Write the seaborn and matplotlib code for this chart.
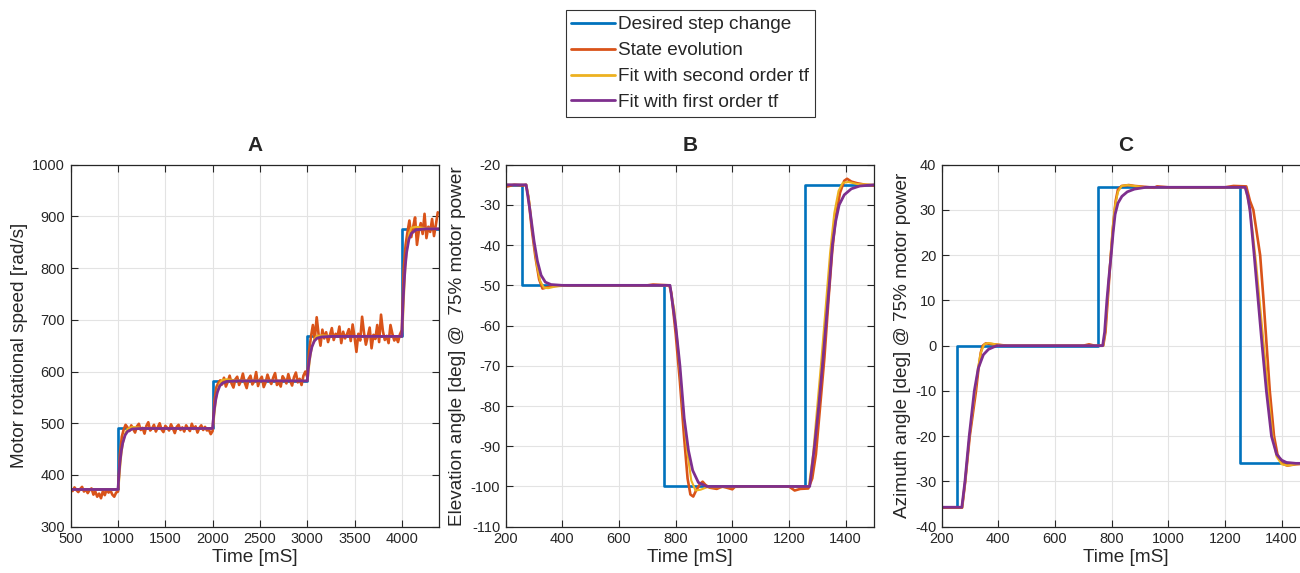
import numpy as np
import pandas as pd
import matplotlib
matplotlib.use("Agg")
import matplotlib.pyplot as plt
import seaborn as sns
from matplotlib.lines import Line2D

# =======================
# Data
# =======================
# --- Panel A: motor rotational speed ---
a_step_t = [500, 1000, 2000, 3000, 4000, 4400]
a_step_v = [372, 490, 582, 668, 876, 876]

a_state_t = np.arange(500, 4400, 20)
a_state_v = [
    374, 369, 376, 371, 367, 373, 377, 368, 372, 365, 371, 374, 362, 368, 358,
    364, 355, 369, 361, 372, 366, 370, 362, 358, 366,
    368, 440, 474, 488, 497, 492, 485, 496, 489, 482, 494, 499, 487, 491, 480,
    495, 502, 486, 490, 497, 484, 492, 500, 488, 483, 495, 491, 486, 498, 490,
    481, 493, 497, 487, 492, 484, 496, 490, 485, 499, 489, 494, 482, 491, 496,
    487, 493, 486, 488, 479,
    485, 545, 570, 578, 583, 575, 588, 571, 580, 592, 577, 569, 585, 590, 574,
    582, 596, 578, 568, 586, 592, 575, 581, 599, 572, 584, 590, 570, 579, 594,
    583, 576, 588, 597, 574, 580, 571, 591, 585, 577, 595, 582, 573, 589, 598,
    579, 586, 574, 592, 600,
    590, 640, 668, 690, 662, 705, 672, 650, 681, 664, 676, 657, 670, 684, 661,
    673, 668, 687, 655, 677, 664, 672, 682, 659, 691, 667, 638, 673, 660, 706,
    675, 652, 668, 685, 645, 671, 663, 690, 657, 710, 678, 661, 669, 655, 690,
    673, 660, 666, 657, 672,
    680, 800, 845, 870, 892, 860, 880, 898, 845, 872, 887, 866, 905, 858, 880,
    870, 895, 862, 884, 908,
]

a_fit2_t = [500, 1000, 1010, 1020, 1035, 1050, 1075, 1100, 1150, 1250, 2000,
            2010, 2020, 2035, 2050, 2075, 2100, 2150, 2250, 3000,
            3010, 3020, 3035, 3050, 3075, 3100, 3150, 3250, 4000,
            4010, 4020, 4035, 4050, 4075, 4100, 4150, 4250, 4400]
a_fit2_v = [372, 372, 385, 410, 440, 460, 480, 489, 493, 491, 490,
            500, 520, 545, 562, 577, 584, 585, 583, 582,
            591, 610, 632, 648, 662, 669, 670, 669, 668,
            690, 735, 795, 832, 865, 878, 880, 877, 876]

a_fit1_t = [500, 1000, 1010, 1020, 1035, 1050, 1075, 1100, 1150, 1250, 2000,
            2010, 2020, 2035, 2050, 2075, 2100, 2150, 2250, 3000,
            3010, 3020, 3035, 3050, 3075, 3100, 3150, 3250, 4000,
            4010, 4020, 4035, 4050, 4075, 4100, 4150, 4250, 4400]
a_fit1_v = [372, 372, 402, 424, 447, 462, 477, 484, 489, 490, 490,
            513, 530, 548, 560, 572, 577, 581, 582, 582,
            604, 620, 636, 648, 659, 664, 667, 668, 668,
            720, 760, 802, 830, 856, 867, 874, 876, 876]

# --- Panel B: elevation angle ---
b_step_t = [200, 256, 760, 1255, 1500]
b_step_v = [-25, -50, -100, -25, -25]

b_state_t = [200, 230, 262, 272, 280, 292, 305, 318, 330, 345, 365, 400, 700,
             720, 778, 785, 800, 815, 830, 842, 852, 862, 872, 885, 895, 905,
             920, 945, 965, 1000, 1010, 1200, 1220, 1240, 1268, 1282, 1295,
             1310, 1325, 1340, 1352, 1365, 1380, 1395, 1405, 1420, 1440, 1470,
             1500]
b_state_v = [-25.5, -25, -25.2, -25, -28, -36, -43, -48.5, -50.8, -50.5, -50.2,
             -50, -50, -49.8, -50, -52, -62, -74, -88, -98, -102, -102.5, -101,
             -99.5, -98.8, -99.6, -100.3, -100.6, -100, -100.7, -100, -100,
             -101, -100.6, -100.5, -98, -92, -80, -68, -53, -42, -33, -27, -24,
             -23.5, -24.2, -24.6, -25, -25.2]

b_fit2_t = [200, 272, 283, 297, 310, 322, 335, 350, 375, 420, 778, 795, 810,
            825, 840, 855, 870, 888, 910, 1270, 1285, 1300, 1315, 1330, 1345,
            1360, 1375, 1390, 1410, 1440, 1500]
b_fit2_v = [-25, -25, -29, -38, -45, -49, -50.6, -50.7, -50.3, -50, -50, -56,
            -67, -80, -91, -98.5, -101, -100.8, -100.2, -100, -92, -80, -68,
            -55, -42, -32, -26.5, -24.5, -24.3, -24.8, -25]

b_fit1_t = [200, 272, 285, 300, 312, 325, 340, 360, 400, 780, 800, 815, 830,
            845, 860, 880, 910, 1273, 1290, 1305, 1318, 1330, 1342, 1353, 1365,
            1377, 1395, 1420, 1450, 1500]
b_fit1_v = [-25, -25, -31, -39, -44, -47.5, -49.2, -49.8, -50, -50, -60, -70,
            -83, -91, -96, -99, -100, -100, -90, -80, -70, -60, -50, -40, -34,
            -30, -27.5, -26, -25.3, -25]

# --- Panel C: azimuth angle ---
c_step_t = [200, 255, 750, 1254, 1500]
c_step_v = [-35.7, 0, 35, -26, -26]

c_state_t = [200, 272, 283, 299, 321, 330, 338, 345, 355, 370, 400, 430, 700,
             720, 740, 770, 778, 788, 797, 806, 814, 822, 835, 860, 880, 900,
             950, 960, 1000, 1200, 1230, 1275, 1288, 1300, 1312, 1324, 1336,
             1347, 1358, 1373, 1385, 1400, 1420, 1450, 1500]
c_state_v = [-35.8, -35.8, -30, -20, -10, -5, -1.5, 0, 0.5, 0.4, 0.2, 0, 0,
             0.3, 0, 0, 3, 12, 20, 27, 32, 34.5, 35.3, 35.5, 35.3, 35.2, 34.9,
             35.2, 35, 35, 35.3, 35.2, 32, 30, 25, 20, 10, 0, -10, -20, -24,
             -26, -26.5, -26.2, -26]

c_fit2_t = [200, 272, 283, 298, 318, 328, 338, 350, 365, 390, 430, 770, 777,
            786, 795, 803, 812, 822, 835, 855, 880, 920, 1272, 1285, 1298,
            1310, 1322, 1337, 1352, 1368, 1382, 1400, 1420, 1450, 1500]
c_fit2_v = [-35.7, -35.7, -30, -20, -10, -5, -1.5, 0.3, 0.6, 0.3, 0, 0, 3, 11,
            19, 26, 31, 34, 35.3, 35.5, 35.3, 35, 35, 31, 25, 18, 10, 0, -10,
            -20, -24.5, -26.2, -26.5, -26.2, -26]

c_fit1_t = [200, 271, 282, 297, 315, 329, 347, 365, 394, 430, 768, 775,
            783, 790, 798, 805, 812, 822, 836, 855, 880, 920, 1271, 1280, 1288,
            1303, 1317, 1331, 1346, 1364, 1382, 1400, 1417, 1450, 1500]
c_fit1_v = [-35.7, -35.7, -30, -20, -10, -5, -2, -0.8, 0, 0, 0, 3,
            10, 15, 20, 25, 29, 31.5, 33, 34, 34.6, 35, 35, 33, 30, 20, 10, 0,
            -10, -20, -24, -25.3, -25.8, -26, -26]

legend_labels = ["Desired step change", "State evolution",
                 "Fit with second order tf", "Fit with first order tf"]
colors = ["#0072BD", "#D95319", "#EDB120", "#7E2F8E"]
widths = [1.9, 1.9, 1.5, 2.0]

# =======================
# Style
# =======================
sns.set_theme(style="whitegrid")
plt.rcParams["font.family"] = ["Liberation Sans", "DejaVu Sans"]
plt.rcParams["axes.unicode_minus"] = False

fig = plt.figure(figsize=(13, 5.73), dpi=100)

panels = [
    ("A", "Motor rotational speed [rad/s]",
     [(a_step_t, a_step_v), (a_state_t, a_state_v),
      (a_fit2_t, a_fit2_v), (a_fit1_t, a_fit1_v)],
     (500, 4393), (300, 1000), np.arange(500, 4001, 500), np.arange(300, 1001, 100),
     0.0544),
    ("B", "Elevation angle [deg] @  75% motor power",
     [(b_step_t, b_step_v), (b_state_t, b_state_v),
      (b_fit2_t, b_fit2_v), (b_fit1_t, b_fit1_v)],
     (200, 1500), (-110, -20), np.arange(200, 1401, 200), np.arange(-110, -19, 10),
     0.389),
    ("C", "Azimuth angle [deg] @ 75% motor power",
     [(c_step_t, c_step_v), (c_state_t, c_state_v),
      (c_fit2_t, c_fit2_v), (c_fit1_t, c_fit1_v)],
     (200, 1500), (-40, 40), np.arange(200, 1401, 200), np.arange(-40, 41, 10),
     0.7244),
]

for title, ylab, series, xlim, ylim, xt, yt, left in panels:
    ax = fig.add_axes([left, 0.0808, 0.2833, 0.6318])
    for i, (t, v) in enumerate(series):
        df = pd.DataFrame({"t": t, "v": v})
        sns.lineplot(data=df, x="t", y="v", ax=ax, color=colors[i],
                     lw=widths[i], estimator=None, sort=False,
                     drawstyle="steps-post" if i == 0 else "default")
    ax.set_xlim(*xlim)
    ax.set_ylim(*ylim)
    ax.set_xticks(xt)
    ax.set_yticks(yt)
    ax.set_title(title, fontsize=15, fontweight="bold", pad=10)
    ax.set_xlabel("Time [mS]", fontsize=13.7, color="#262626", labelpad=2)
    ax.set_ylabel(ylab, fontsize=13.7, color="#262626", labelpad=3)
    ax.tick_params(direction="in", length=5, width=0.8, top=True, right=True,
                   labelsize=10.5, colors="#262626", pad=4,
                   bottom=True, left=True)
    ax.grid(True, color="#e3e3e3", lw=0.8)
    for sp in ax.spines.values():
        sp.set_color("#262626")
        sp.set_linewidth(0.9)

handles = [Line2D([0], [0], color=c, lw=2) for c in colors]
leg = fig.legend(handles, legend_labels, loc="center",
                 bbox_to_anchor=(0.5308, 0.889), fontsize=13.7,
                 frameon=True, fancybox=False, edgecolor="black",
                 handlelength=2.3, handletextpad=0.15, labelspacing=0.45,
                 borderpad=0.3, borderaxespad=0)
leg.get_frame().set_linewidth(0.8)

fig.savefig("out.png", dpi=100, facecolor="white")
